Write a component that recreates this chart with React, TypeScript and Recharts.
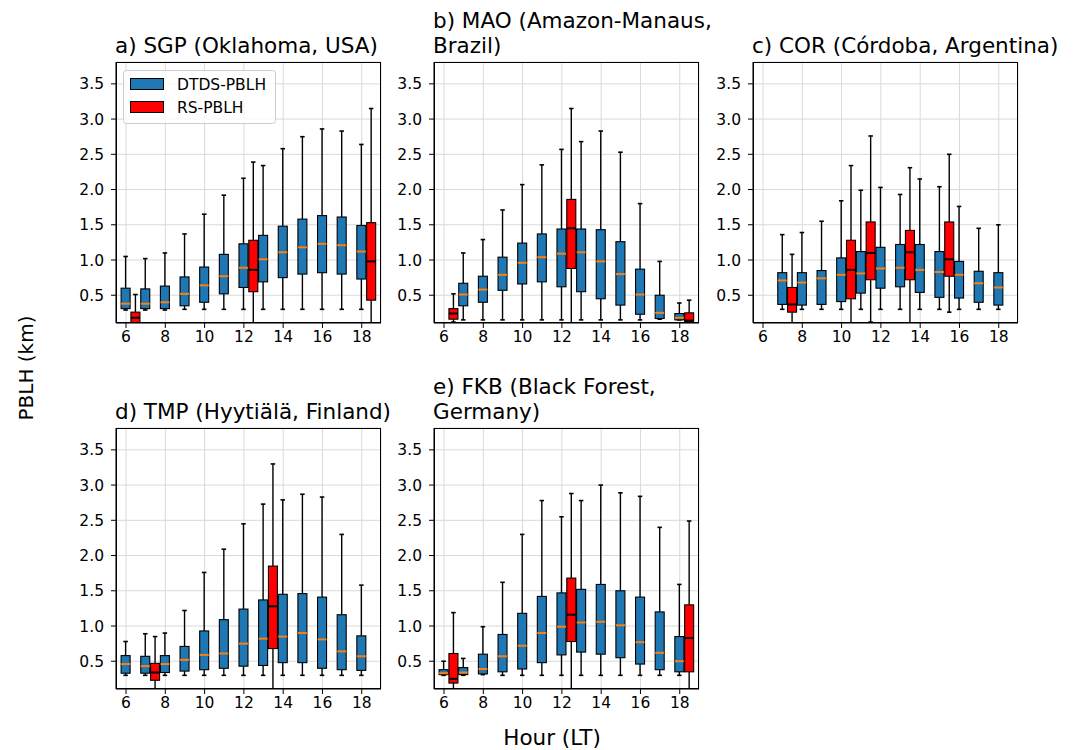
import React from 'react';
import { ComposedChart, Bar, XAxis, YAxis, CartesianGrid } from 'recharts';

// ---- data: [hour, min, q1, median, q3, max] (PBLH, km) ----
const HOUR_TICKS = [6, 8, 10, 12, 14, 16, 18];
const PBLH_TICKS = [0.5, 1.0, 1.5, 2.0, 2.5, 3.0, 3.5];

const SGP_DTDS = [
  [6, 0.29, 0.31, 0.38, 0.60, 1.05],
  [7, 0.29, 0.31, 0.38, 0.59, 1.02],
  [8, 0.29, 0.31, 0.40, 0.63, 1.10],
  [9, 0.30, 0.35, 0.52, 0.76, 1.37],
  [10, 0.30, 0.40, 0.64, 0.90, 1.65],
  [11, 0.30, 0.52, 0.77, 1.08, 1.92],
  [12, 0.30, 0.61, 0.89, 1.23, 2.16],
  [13, 0.30, 0.69, 1.01, 1.35, 2.34],
  [14, 0.30, 0.75, 1.11, 1.48, 2.58],
  [15, 0.30, 0.80, 1.18, 1.58, 2.75],
  [16, 0.30, 0.82, 1.23, 1.63, 2.86],
  [17, 0.30, 0.80, 1.21, 1.61, 2.83],
  [18, 0.30, 0.73, 1.12, 1.49, 2.64],
];
const SGP_RS = [
  [6.5, 0.02, 0.08, 0.18, 0.26, 0.51],
  [12.5, 0.02, 0.55, 0.86, 1.28, 2.39],
  [18.5, 0.02, 0.43, 0.98, 1.53, 3.15],
];

const MAO_DTDS = [
  [7, 0.15, 0.35, 0.51, 0.67, 1.10],
  [8, 0.15, 0.40, 0.58, 0.77, 1.29],
  [9, 0.15, 0.57, 0.79, 1.04, 1.71],
  [10, 0.15, 0.66, 0.96, 1.24, 2.07],
  [11, 0.15, 0.69, 1.04, 1.37, 2.35],
  [12, 0.15, 0.62, 1.09, 1.44, 2.57],
  [13, 0.15, 0.55, 1.11, 1.44, 2.68],
  [14, 0.15, 0.45, 0.98, 1.43, 2.83],
  [15, 0.15, 0.36, 0.80, 1.26, 2.53],
  [16, 0.15, 0.23, 0.51, 0.87, 1.80],
  [17, 0.16, 0.17, 0.25, 0.50, 0.98],
  [18, 0.15, 0.15, 0.18, 0.24, 0.39],
];
const MAO_RS = [
  [6.5, 0.12, 0.16, 0.24, 0.31, 0.52],
  [12.5, 0.02, 0.88, 1.45, 1.86, 3.15],
  [18.5, 0.05, 0.12, 0.14, 0.25, 0.43],
];

const COR_DTDS = [
  [7, 0.30, 0.37, 0.71, 0.82, 1.36],
  [8, 0.30, 0.36, 0.68, 0.82, 1.39],
  [9, 0.30, 0.37, 0.74, 0.85, 1.55],
  [10, 0.30, 0.41, 0.79, 1.03, 1.84],
  [11, 0.30, 0.53, 0.81, 1.12, 1.99],
  [12, 0.30, 0.60, 0.88, 1.18, 2.03],
  [13, 0.30, 0.62, 0.89, 1.22, 1.93],
  [14, 0.30, 0.54, 0.86, 1.22, 2.15],
  [15, 0.30, 0.47, 0.83, 1.12, 2.04],
  [16, 0.30, 0.46, 0.79, 0.98, 1.76],
  [17, 0.30, 0.40, 0.67, 0.84, 1.45],
  [18, 0.30, 0.36, 0.61, 0.82, 1.50],
];
const COR_RS = [
  [7.5, 0.02, 0.26, 0.37, 0.61, 1.08],
  [10.5, 0.02, 0.45, 0.86, 1.28, 2.34],
  [11.5, 0.12, 0.72, 1.10, 1.54, 2.76],
  [13.5, 0.02, 0.72, 1.11, 1.42, 2.31],
  [15.5, 0.26, 0.77, 1.01, 1.54, 2.50],
];

const TMP_DTDS = [
  [6, 0.30, 0.33, 0.46, 0.58, 0.78],
  [7, 0.30, 0.33, 0.43, 0.57, 0.89],
  [8, 0.30, 0.34, 0.46, 0.58, 0.90],
  [9, 0.30, 0.36, 0.52, 0.71, 1.22],
  [10, 0.30, 0.38, 0.59, 0.93, 1.76],
  [11, 0.30, 0.40, 0.61, 1.09, 2.09],
  [12, 0.30, 0.43, 0.75, 1.24, 2.45],
  [13, 0.30, 0.44, 0.82, 1.37, 2.73],
  [14, 0.30, 0.48, 0.85, 1.45, 2.79],
  [15, 0.30, 0.48, 0.90, 1.46, 2.87],
  [16, 0.30, 0.40, 0.81, 1.41, 2.83],
  [17, 0.30, 0.38, 0.64, 1.16, 2.30],
  [18, 0.30, 0.37, 0.57, 0.86, 1.58],
];
const TMP_RS = [
  [7.5, 0.02, 0.23, 0.34, 0.47, 0.85],
  [13.5, 0.02, 0.68, 1.28, 1.85, 3.30],
];

const FKB_DTDS = [
  [6, 0.30, 0.31, 0.33, 0.38, 0.50],
  [7, 0.30, 0.31, 0.34, 0.41, 0.54],
  [8, 0.31, 0.32, 0.39, 0.60, 0.99],
  [9, 0.30, 0.35, 0.57, 0.88, 1.62],
  [10, 0.30, 0.39, 0.72, 1.18, 2.30],
  [11, 0.30, 0.48, 0.90, 1.42, 2.78],
  [12, 0.30, 0.59, 0.99, 1.47, 2.55],
  [13, 0.30, 0.63, 1.05, 1.52, 2.78],
  [14, 0.30, 0.60, 1.06, 1.59, 3.00],
  [15, 0.30, 0.55, 1.01, 1.50, 2.89],
  [16, 0.30, 0.46, 0.77, 1.41, 2.84],
  [17, 0.30, 0.38, 0.62, 1.20, 2.40],
  [18, 0.30, 0.35, 0.50, 0.85, 1.59],
];
const FKB_RS = [
  [6.5, 0.02, 0.19, 0.25, 0.61, 1.19],
  [12.5, 0.02, 0.78, 1.16, 1.68, 2.88],
  [18.5, 0.02, 0.35, 0.83, 1.30, 2.49],
];

const PANELS = [
  { title: ['a) SGP (Oklahoma, USA)'], dtds: SGP_DTDS, rs: SGP_RS, left: 116, top: 62, legend: true },
  { title: ['b) MAO (Amazon-Manaus,', 'Brazil)'], dtds: MAO_DTDS, rs: MAO_RS, left: 434, top: 62 },
  { title: ['c) COR (Córdoba, Argentina)'], dtds: COR_DTDS, rs: COR_RS, left: 753, top: 62 },
  { title: ['d) TMP (Hyytiälä, Finland)'], dtds: TMP_DTDS, rs: TMP_RS, left: 116, top: 428 },
  { title: ['e) FKB (Black Forest,', 'Germany)'], dtds: FKB_DTDS, rs: FKB_RS, left: 434, top: 428 },
];

// ---- styles ----
const FONT = '"DejaVu Sans", sans-serif';
const BLUE = '#1f77b4';
const RED = '#ff0000';
const ORANGE = '#ff7f0e';
const PLOT_W = 265;
const PLOT_H = 261;
const Y_AXIS_W = 60;
const X_AXIS_H = 30;
const M_TOP = 5;
const M_RIGHT = 5;
const X_DOMAIN = [5.49, 18.98];
const Y_DOMAIN = [0.106, 3.81];
const BOX_W = 9;

type Row = { hour: number; min: number; q1: number; med: number; q3: number; max: number; dtds?: number[]; rs?: number[] };

function buildRows(dtds: number[][], rs: number[][]): Row[] {
  const rows: Row[] = [];
  dtds.forEach(([hour, min, q1, med, q3, max]) => rows.push({ hour, min, q1, med, q3, max, dtds: [med, max] }));
  rs.forEach(([hour, min, q1, med, q3, max]) => rows.push({ hour, min, q1, med, q3, max, rs: [med, max] }));
  return rows.sort((a, b) => a.hour - b.hour);
}

function makeBoxShape(key: 'dtds' | 'rs', fill: string, medianColor: string) {
  return (props: any) => {
    const { x, y, width, height, payload } = props;
    if (!payload || !Array.isArray(payload[key]) || x == null || !isFinite(y) || !isFinite(height) || height <= 0) return <g />;
    const { min, q1, med, q3, max } = payload as Row;
    // bar spans [median, max] on the library's y scale; the scale is linear
    const py = (v: number) => y + (height * (max - v)) / (max - med);
    const cx = x + width / 2;
    const cap = width / 4;
    return (
      <g>
        <line x1={cx} x2={cx} y1={py(max)} y2={py(q3)} stroke="#000" strokeWidth={1.4} />
        <line x1={cx} x2={cx} y1={py(q1)} y2={py(min)} stroke="#000" strokeWidth={1.4} />
        <line x1={cx - cap} x2={cx + cap} y1={py(max)} y2={py(max)} stroke="#000" strokeWidth={1.6} />
        <line x1={cx - cap} x2={cx + cap} y1={py(min)} y2={py(min)} stroke="#000" strokeWidth={1.6} />
        <rect x={x} y={py(q3)} width={width} height={py(q1) - py(q3)} fill={fill} stroke="#000" strokeWidth={1.1} />
        <line x1={x} x2={x + width} y1={py(med)} y2={py(med)} stroke={medianColor} strokeWidth={2} />
      </g>
    );
  };
}

const DTDS_SHAPE = makeBoxShape('dtds', BLUE, ORANGE);
const RS_SHAPE = makeBoxShape('rs', RED, '#000');

function Panel({ p }: { p: (typeof PANELS)[number] }) {
  const data = buildRows(p.dtds, p.rs);
  const W = Y_AXIS_W + PLOT_W + M_RIGHT;
  const H = M_TOP + PLOT_H + X_AXIS_H;
  const tick = { fontSize: 15.5, fill: '#000', fontFamily: FONT };
  return (
    <div style={{ position: 'absolute', left: p.left - Y_AXIS_W, top: p.top - M_TOP, width: W, height: H }}>
      <ComposedChart width={W} height={H} data={data} margin={{ top: M_TOP, right: M_RIGHT, bottom: 0, left: 0 }}>
        <CartesianGrid xAxisId="x" yAxisId="y" stroke="#d9d9d9" strokeWidth={1} />
        <XAxis
          xAxisId="x"
          type="number"
          dataKey="hour"
          domain={X_DOMAIN}
          ticks={HOUR_TICKS}
          allowDataOverflow
          height={X_AXIS_H}
          tick={tick}
          tickSize={5}
          tickMargin={3}
          axisLine={{ stroke: '#000' }}
          tickLine={{ stroke: '#000' }}
          interval={0}
        />
        <XAxis xAxisId="xrs" type="number" dataKey="hour" domain={X_DOMAIN} allowDataOverflow hide />
        <YAxis
          yAxisId="y"
          type="number"
          domain={Y_DOMAIN}
          ticks={PBLH_TICKS}
          allowDataOverflow
          width={Y_AXIS_W}
          tick={tick}
          tickSize={5}
          tickMargin={7}
          tickFormatter={(v: number) => v.toFixed(1)}
          axisLine={{ stroke: '#000' }}
          tickLine={{ stroke: '#000' }}
          interval={0}
        />
        <Bar xAxisId="x" yAxisId="y" dataKey="dtds" name="DTDS-PBLH" barSize={BOX_W} fill={BLUE} shape={DTDS_SHAPE} isAnimationActive={false} />
        <Bar xAxisId="xrs" yAxisId="y" dataKey="rs" name="RS-PBLH" barSize={BOX_W} fill={RED} shape={RS_SHAPE} isAnimationActive={false} />
      </ComposedChart>
      <div
        style={{
          position: 'absolute',
          left: Y_AXIS_W,
          top: M_TOP,
          width: PLOT_W,
          height: PLOT_H,
          boxSizing: 'border-box',
          border: '1px solid #000',
          pointerEvents: 'none',
        }}
      />
    </div>
  );
}

export default function App() {
  return (
    <div style={{ position: 'absolute', left: 0, top: 0, width: 1089, height: 750, background: '#fff', fontFamily: FONT, overflow: 'hidden' }}>
      {PANELS.map((p, i) => (
        <Panel key={i} p={p} />
      ))}
      <svg width={1089} height={750} style={{ position: 'absolute', left: 0, top: 0, pointerEvents: 'none' }}>
        {PANELS.map((p, i) =>
          p.title.map((line, j) => (
            <text
              key={`${i}-${j}`}
              x={p.left - 1}
              y={p.top - 9 - (p.title.length - 1 - j) * 25}
              fontSize={21.5}
              fontFamily={FONT}
              fill="#000"
            >
              {line}
            </text>
          ))
        )}
        {/* legend in panel a */}
        <g>
          <rect x={123.5} y={70.5} width={152} height={53} rx={3} ry={3} fill="#fff" fillOpacity={0.8} stroke="#cccccc" />
          <rect x={130.5} y={78.5} width={33} height={11} fill={BLUE} stroke="#000" />
          <rect x={130.5} y={101.5} width={33} height={11} fill={RED} stroke="#000" />
          <text x={177} y={89.5} fontSize={15.5} fontFamily={FONT} fill="#000">DTDS-PBLH</text>
          <text x={177} y={112.5} fontSize={15.5} fontFamily={FONT} fill="#000">RS-PBLH</text>
        </g>
        <text x={552} y={745} fontSize={21.5} fontFamily={FONT} fill="#000" textAnchor="middle">Hour (LT)</text>
        <text
          x={0}
          y={0}
          fontSize={20}
          fontFamily={FONT}
          fill="#000"
          textAnchor="middle"
          transform="translate(33 368) rotate(-90)"
        >
          PBLH (km)
        </text>
      </svg>
    </div>
  );
}
